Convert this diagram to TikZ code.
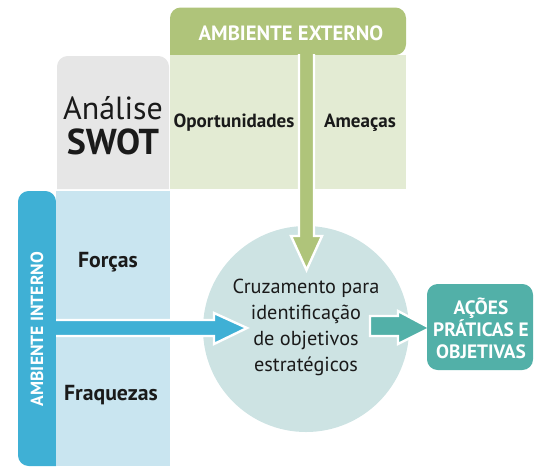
\documentclass[tikz,border=0pt]{standalone}
\usepackage{fontspec}
\setmainfont{PT Sans}
\definecolor{hdrgreen}{HTML}{AFC47A}
\definecolor{lightgreen}{HTML}{E3EBD3}
\definecolor{swotgray}{HTML}{E6E6E6}
\definecolor{barblue}{HTML}{3FB0D5}
\definecolor{lightblue}{HTML}{C9E5F0}
\definecolor{circfill}{HTML}{CDE3E3}
\definecolor{tealbox}{HTML}{52B0A8}
\definecolor{txtdark}{HTML}{1A1A1A}
\begin{document}
\begin{tikzpicture}[x=0.75pt,y=-0.75pt,
  celltext/.style={font=\bfseries\fontsize{14.3}{16}\selectfont, text=txtdark, inner sep=0pt},
  whitetext/.style={font=\bfseries\fontsize{12}{14}\selectfont, text=white, inner sep=0pt},
  arrowshape/.style={draw=white, line width=1.8pt, line join=miter}]
\useasboundingbox (0,0) rectangle (534,472);
% external header
\fill[hdrgreen, rounded corners=8] (170,55) -- (170,7.5) -- (406,7.5) -- (406,55) [sharp corners]-- cycle;
\node[whitetext, font=\bfseries\fontsize{15.5}{17}\selectfont] (ext) at (291,33) {AMBIENTE EXTERNO};
% light green cells
\fill[lightgreen] (170,55) rectangle (406,189);
\node[celltext] (opo) at (234,123) {Oportunidades};
\node[celltext] (ame) at (360,123) {Ameaças};
% SWOT gray box
\fill[swotgray, rounded corners=8] (57,189) -- (57,56) -- (169,56) [sharp corners]-- (169,189) -- cycle;
\node[text=txtdark, inner sep=0pt, font=\fontsize{24}{25}\selectfont] (analise) at (113,108) {Análise};
\node[text=txtdark, inner sep=0pt, font=\bfseries\fontsize{27}{28}\selectfont] (swot) at (113,142) {SWOT};
% internal bar
\fill[barblue, rounded corners=8] (56,466) -- (18,466) -- (18,191) -- (56,191) [sharp corners]-- cycle;
\fill[lightblue] (56,191) rectangle (170,466);
\node[whitetext, rotate=90, font=\bfseries\fontsize{13.2}{15}\selectfont] (int) at (37,329) {AMBIENTE INTERNO};
\node[celltext, font=\bfseries\fontsize{16.3}{18}\selectfont] (for) at (108,262) {Forças};
\node[celltext, font=\bfseries\fontsize{16.3}{18}\selectfont] (fra) at (111,395) {Fraquezas};
% circle
\node[circle, fill=circfill, minimum size=206*0.75pt, inner sep=0pt] (circ) at (306,329) {};
\node[align=center, text=txtdark, inner sep=0pt, font=\fontsize{15.2}{19.5}\selectfont] (ctext) at (306,327)
  {Cruzamento para\\identificação\\de objetivos\\estratégicos};
% green arrow (down)
\coordinate (gtip) at (306.5,270);
\filldraw[arrowshape, fill=hdrgreen] (299,54) -- (299,236) -- (291,236) -- (gtip) -- (322,236) -- (314,236) -- (314,54);
% blue arrow
\coordinate (btip) at (247,328);
\filldraw[arrowshape, fill=barblue] (56,320) -- (214,320) -- (214,313) -- (btip) -- (214,344) -- (214,336) -- (56,336);
% teal arrow
\coordinate (ttip) at (430,328);
\filldraw[arrowshape, fill=tealbox] (370,316) -- (398,316) -- (398,311) -- (ttip) -- (398,344) -- (398,336) -- (370,336) -- cycle;
% teal box
\node[fill=tealbox, rounded corners=8, minimum width=106*0.75pt, minimum height=86*0.75pt, inner sep=0pt] (acoes) at (480,327) {};
\node[whitetext, align=center, font=\bfseries\fontsize{14.5}{16.5}\selectfont] (acoestext) at (481,328)
  {AÇÕES\\PRÁTICAS E\\OBJETIVAS};
\end{tikzpicture}
\end{document}
